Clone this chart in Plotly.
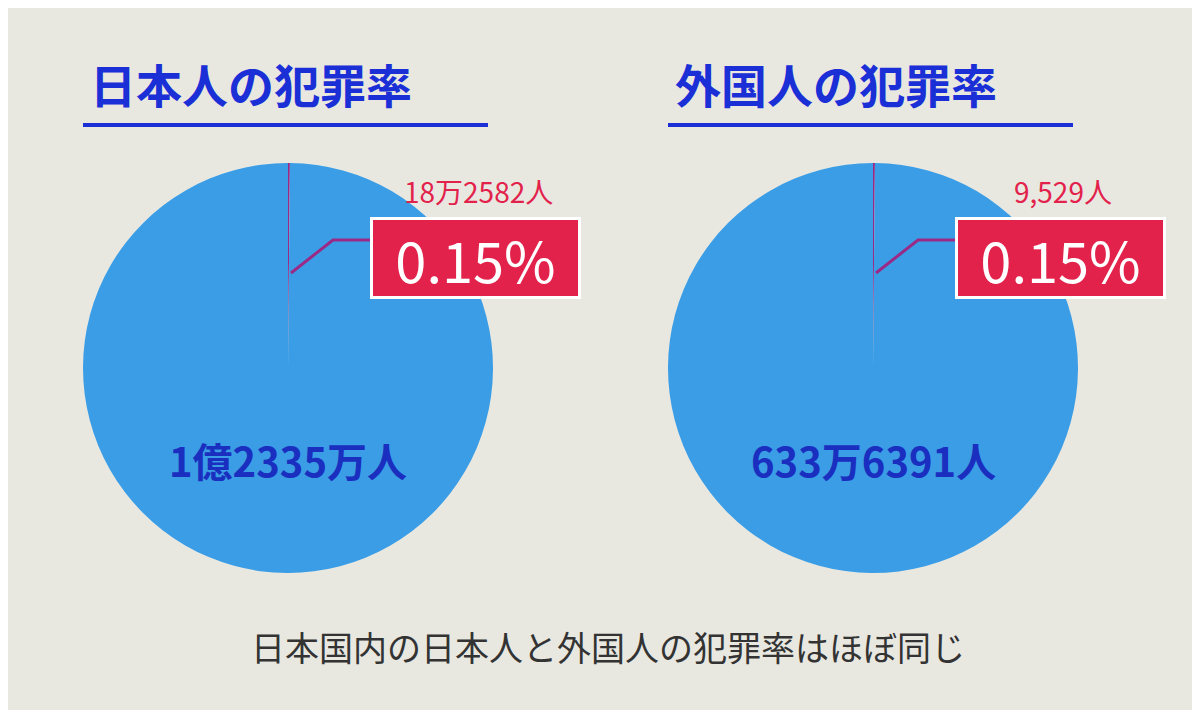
import plotly.graph_objects as go

# data
titles = ["日本人の犯罪率", "外国人の犯罪率"]
offenders = [182582, 9529]
populations = [123350000, 6336391]
offender_labels = ["18万2582人", "9,529人"]
population_labels = ["1億2335万人", "633万6391人"]
rate_labels = ["0.15%", "0.15%"]
footer = "日本国内の日本人と外国人の犯罪率はほぼ同じ"

BG = "#e8e8e1"
PIE_BLUE = "#3a9de6"
SLICE = "#9a2a86"
TITLE_BLUE = "#1b2fd6"
RED = "#e3224c"
FONT = "Noto Sans CJK JP"

W, H = 1200, 710


def px(x):
    return x / W


def py(y):
    return 1 - y / H


fig = go.Figure()

centers = [280, 865]
R = 205
for i, cx in enumerate(centers):
    fig.add_trace(go.Pie(
        values=[offenders[i], populations[i]],
        labels=["犯罪者", "人口"],
        sort=False,
        direction="clockwise",
        rotation=0,
        marker=dict(colors=[SLICE, PIE_BLUE], line=dict(width=0)),
        textinfo="none",
        hoverinfo="label+value+percent",
        showlegend=False,
        domain=dict(x=[px(cx - R), px(cx + R)], y=[py(360 + R), py(360 - R)]),
    ))

    # title + underline
    fig.add_annotation(x=px(cx - 200), y=py(75), xref="paper", yref="paper",
                       text="<b>%s</b>" % titles[i], showarrow=False,
                       xanchor="left", yanchor="middle",
                       font=dict(family=FONT, size=46, color=TITLE_BLUE))
    fig.add_shape(type="line", xref="paper", yref="paper",
                  x0=px(cx - 205), x1=px(cx + 200), y0=py(117), y1=py(117),
                  line=dict(color=TITLE_BLUE, width=4))

    # callout line from slice to box
    fig.add_shape(type="path", xref="paper", yref="paper",
                  path="M %f %f L %f %f L %f %f" % (px(cx + 3), py(265), px(cx + 45), py(232),
                                                    px(cx + 85), py(232)),
                  line=dict(color=SLICE, width=3))

    # offender count
    fig.add_annotation(x=px(cx + 190), y=py(183), xref="paper", yref="paper",
                       text=offender_labels[i], showarrow=False,
                       xanchor="center", yanchor="middle",
                       font=dict(family=FONT, size=28, color=RED))
    # rate box
    fig.add_annotation(x=px(cx + 187), y=py(250), xref="paper", yref="paper",
                       text=rate_labels[i], showarrow=False,
                       xanchor="center", yanchor="middle",
                       bgcolor=RED, bordercolor="white", borderwidth=3, borderpad=0,
                       width=205, height=76,
                       font=dict(family=FONT, size=56, color="white"))
    # population label
    fig.add_annotation(x=px(cx), y=py(452), xref="paper", yref="paper",
                       text="<b>%s</b>" % population_labels[i], showarrow=False,
                       xanchor="center", yanchor="middle",
                       font=dict(family=FONT, size=40, color="#1a2fc0"))

fig.add_annotation(x=0.5, y=py(638), xref="paper", yref="paper", text=footer,
                   showarrow=False, xanchor="center", yanchor="middle",
                   font=dict(family=FONT, size=34, color="#333333"))

fig.update_layout(
    width=W, height=H,
    margin=dict(l=0, r=0, t=0, b=0),
    paper_bgcolor=BG, plot_bgcolor=BG,
)

fig.write_html("out.html")
